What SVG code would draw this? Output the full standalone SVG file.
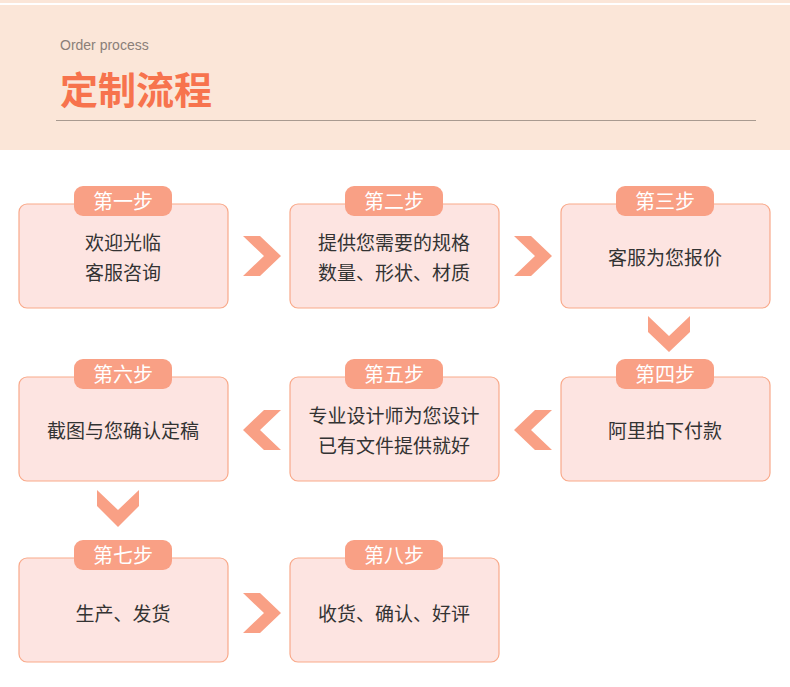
<svg xmlns="http://www.w3.org/2000/svg" width="790" height="687" viewBox="0 0 790 687">
<style>
.box{fill:#fde4e1;stroke:#f9a98a;stroke-width:1.2}
.pill{fill:#f9a085}
.pt{font-family:"Noto Sans CJK SC",sans-serif;font-size:20px;fill:#fff;text-anchor:middle}
.bt{font-family:"Noto Sans CJK SC",sans-serif;font-size:19px;fill:#333;text-anchor:middle}
.ch{fill:#f9a085}
</style>
<rect width="790" height="687" fill="#fff"/>
<rect y="0" width="790" height="3" fill="#fbe6d8"/>
<rect y="5" width="790" height="145" fill="#fbe6d8"/>
<text x="60" y="50" font-family="Liberation Sans,sans-serif" font-size="14" fill="#8a7f78">Order process</text>
<text x="60" y="104" font-family="Noto Sans CJK SC,sans-serif" font-size="38" font-weight="bold" fill="#f7734d">定制流程</text>
<line x1="56" y1="120.5" x2="756" y2="120.5" stroke="#a89a90" stroke-width="1"/>
<g id="connectors">
<polygon class="ch" points="243,236 260,236 281,256 260,276 243,276 264,256"/>
<polygon class="ch" points="514,236 531,236 552,256 531,276 514,276 535,256"/>
<polygon class="ch" points="648,316 648,332 669,352 690,332 690,316 669,336"/>
<polygon class="ch" points="552,410 535,410 514,430 535,450 552,450 531,430"/>
<polygon class="ch" points="281,410 264,410 243,430 264,450 281,450 260,430"/>
<polygon class="ch" points="97,490 97,506 118,527 139,506 139,490 118,510"/>
<polygon class="ch" points="243,593 260,593 281,613 260,633 243,633 264,613"/>
</g>
<g id="n1"><rect class="box" x="19" y="204" width="209" height="104" rx="8"/><rect class="pill" x="74" y="186" width="98" height="30" rx="9"/><text class="pt" x="123" y="209">第一步</text><text class="bt" x="123" y="250">欢迎光临</text><text class="bt" x="123" y="280">客服咨询</text></g>
<g id="n2"><rect class="box" x="290" y="204" width="209" height="104" rx="8"/><rect class="pill" x="345" y="186" width="98" height="30" rx="9"/><text class="pt" x="394" y="209">第二步</text><text class="bt" x="394" y="250">提供您需要的规格</text><text class="bt" x="394" y="280">数量、形状、材质</text></g>
<g id="n3"><rect class="box" x="561" y="204" width="209" height="104" rx="8"/><rect class="pill" x="616" y="186" width="98" height="30" rx="9"/><text class="pt" x="665" y="209">第三步</text><text class="bt" x="665" y="265">客服为您报价</text></g>
<g id="n4"><rect class="box" x="561" y="377" width="209" height="104" rx="8"/><rect class="pill" x="616" y="359" width="98" height="30" rx="9"/><text class="pt" x="665" y="382">第四步</text><text class="bt" x="665" y="438">阿里拍下付款</text></g>
<g id="n5"><rect class="box" x="290" y="377" width="209" height="104" rx="8"/><rect class="pill" x="345" y="359" width="98" height="30" rx="9"/><text class="pt" x="394" y="382">第五步</text><text class="bt" x="394" y="423">专业设计师为您设计</text><text class="bt" x="394" y="453">已有文件提供就好</text></g>
<g id="n6"><rect class="box" x="19" y="377" width="209" height="104" rx="8"/><rect class="pill" x="74" y="359" width="98" height="30" rx="9"/><text class="pt" x="123" y="382">第六步</text><text class="bt" x="123" y="438">截图与您确认定稿</text></g>
<g id="n7"><rect class="box" x="19" y="558" width="209" height="104" rx="8"/><rect class="pill" x="74" y="540" width="98" height="30" rx="9"/><text class="pt" x="123" y="563">第七步</text><text class="bt" x="123" y="621">生产、发货</text></g>
<g id="n8"><rect class="box" x="290" y="558" width="209" height="104" rx="8"/><rect class="pill" x="345" y="540" width="98" height="30" rx="9"/><text class="pt" x="394" y="563">第八步</text><text class="bt" x="394" y="621">收货、确认、好评</text></g>
</svg>
